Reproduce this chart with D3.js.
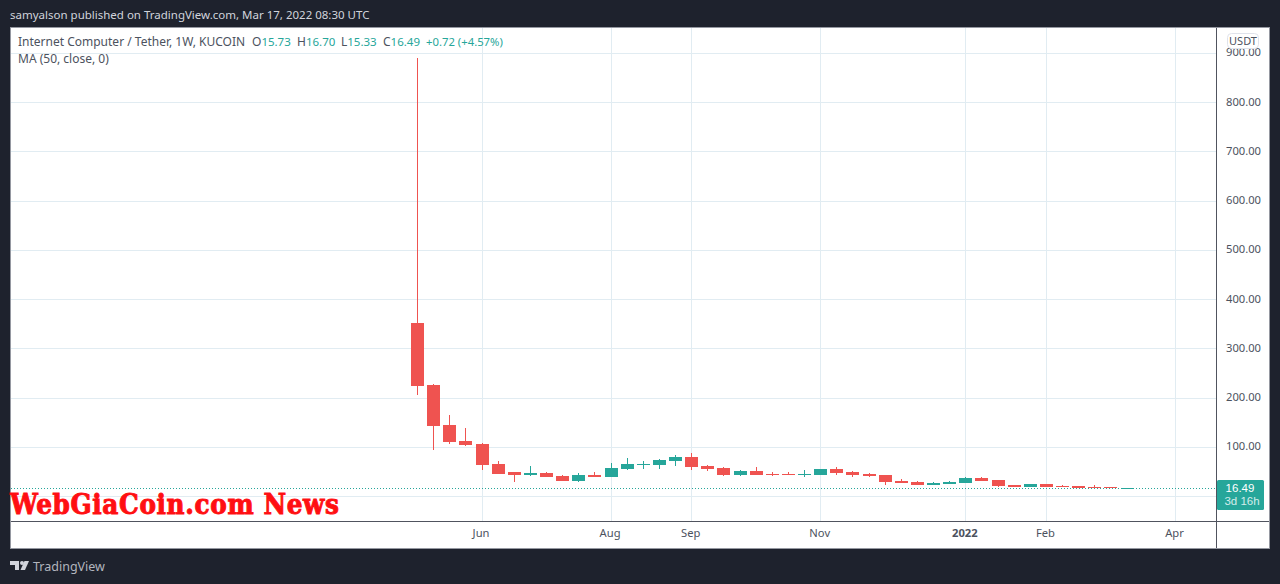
<!DOCTYPE html>
<html><head><meta charset="utf-8">
<script src="https://cdnjs.cloudflare.com/ajax/libs/d3/7.8.5/d3.min.js"></script>
<style>
html,body{margin:0;padding:0;background:#1e222d;overflow:hidden}
svg{display:block}
text{font-family:"Noto Sans",sans-serif}
.axis path,.axis line{display:none}
.axis text{font-family:"Noto Sans",sans-serif;font-size:11.2px;fill:#4c525e}
</style></head><body>
<svg id="c" width="1280" height="584"></svg>
<script>
const weekIndex=[...Array(45).keys()];
const opens =[351,226,144,112,106,65,49,43,47,41,31,43,39,55,63,63,71,79,61,57,43,51,45,45,43,43,55,49,45,43,31,29,23,25,27,37,33,23,19,25,20,20,19,19,15.73];
const closes=[224,142,110,104,63,45,43,47,39,31,43,39,57,65,65,73,79,59,55,43,51,43,43,43,45,55,47,43,41,29,27,23,27,29,37,31,21,19,25,19,19,17,17,16,16.49];
const highs =[889,228,165,138,108,71,49,61,49,43,47,49,67,77,71,75,83,87,63,59,53,59,49,49,53,55,59,51,47,43,35,31,29,31,39,39,33,23,25,25,22,21,23,19,16.70];
const lows  =[205,94,106,102,53,45,28,41,39,31,28,39,39,53,55,55,61,53,51,41,41,43,41,43,39,43,43,39,39,22,27,23,23,25,27,31,18,19,19,19,19,17,17,16,15.33];
const priceTicks=[100,200,300,400,500,600,700,800,900];
const zeroLine=0;
const monthTicks=[["2021-06-07","Jun"],["2021-08-02","Aug"],["2021-09-06","Sep"],["2021-11-01","Nov"],["2022-01-03","2022"],["2022-02-07","Feb"],["2022-04-04","Apr"]];
const firstWeek="2021-05-10";
const lastClose=16.49;
const legendTitle="Internet Computer / Tether, 1W, KUCOIN";
const legendOHLC=[["O","15.73"],["H","16.70"],["L","15.33"],["C","16.49"]];
const legendChange="+0.72 (+4.57%)";

const up="#26a69a",down="#ef5350",grid="#e1ecf2",txt="#4c525e";
const parse=d3.utcParse("%Y-%m-%d");
const t0=parse(firstWeek);
const dates=weekIndex.map(i=>d3.utcDay.offset(t0,i*7));
const x=d3.scaleUtc().domain([t0,parse("2022-04-04")]).range([417,1175]);
const y=d3.scaleLinear().domain([0,900]).range([496,53]);
const px=v=>Math.round(v);
const svg=d3.select("#c");

svg.append("rect").attr("x",10.5).attr("y",27.5).attr("width",1259).attr("height",521).attr("fill","#fff").attr("stroke","#9598a1");

const g=svg.append("g");
g.selectAll(".hg").data([zeroLine,...priceTicks]).join("line")
 .attr("x1",11).attr("x2",1216).attr("y1",d=>px(y(d))+.5).attr("y2",d=>px(y(d))+.5).attr("stroke",grid);
g.selectAll(".vg").data(monthTicks).join("line")
 .attr("y1",28).attr("y2",521).attr("x1",d=>px(x(parse(d[0])))+.5).attr("x2",d=>px(x(parse(d[0])))+.5).attr("stroke",grid);

g.append("line").attr("x1",11).attr("x2",1216).attr("y1",px(y(lastClose))+.5).attr("y2",px(y(lastClose))+.5)
 .attr("stroke",up).attr("stroke-dasharray","1 2");

const candles=g.selectAll(".k").data(weekIndex).join("g");
candles.append("line")
 .attr("x1",i=>px(x(dates[i]))+.5).attr("x2",i=>px(x(dates[i]))+.5)
 .attr("y1",i=>px(y(highs[i]))).attr("y2",i=>px(y(lows[i])))
 .attr("stroke",i=>closes[i]>=opens[i]?up:down);
candles.append("rect")
 .attr("x",i=>px(x(dates[i]))-6).attr("width",13)
 .attr("y",i=>px(y(Math.max(opens[i],closes[i]))))
 .attr("height",i=>Math.max(1,px(y(Math.min(opens[i],closes[i])))-px(y(Math.max(opens[i],closes[i])))))
 .attr("fill",i=>closes[i]>=opens[i]?up:down);

svg.append("line").attr("x1",11).attr("x2",1269).attr("y1",521.5).attr("y2",521.5).attr("stroke","#50535e");
svg.append("line").attr("x1",1216.5).attr("x2",1216.5).attr("y1",28).attr("y2",548).attr("stroke","#50535e");

svg.append("g").attr("class","axis").attr("transform","translate(1216,-1)")
 .call(d3.axisRight(y).tickValues(priceTicks).tickFormat(d3.format(".2f")).tickSize(0).tickPadding(10))
 .call(a=>a.selectAll("text").attr("dy","0.35em"));
svg.append("g").attr("class","axis").attr("transform","translate(-1,521)")
 .call(d3.axisBottom(x).tickValues(monthTicks.map(d=>parse(d[0]))).tickFormat((d,i)=>monthTicks[i][1]).tickSize(0).tickPadding(8))
 .call(a=>a.selectAll("text").filter((d,i)=>monthTicks[i][1]==="2022").attr("font-weight",700));

svg.append("rect").attr("x",1227.5).attr("y",33.5).attr("width",31).attr("height",15).attr("rx",4).attr("fill","#fff").attr("stroke","#e0e3eb");
svg.append("text").attr("x",1243).attr("y",45).attr("text-anchor","middle").attr("font-size",11).attr("fill",txt).text("USDT");

svg.append("rect").attr("x",1217).attr("y",480).attr("width",47).attr("height",30).attr("rx",1.5).attr("fill",up);
svg.append("text").attr("x",1240).attr("y",492).attr("text-anchor","middle").style("font-family","Liberation Sans").attr("font-size",11.5).attr("fill","#fff").text(d3.format(".2f")(lastClose));
svg.append("text").attr("x",1242).attr("y",505).attr("text-anchor","middle").style("font-family","Liberation Sans").attr("font-size",11.5).attr("fill","#d4edeb").text("3d 16h");

svg.append("text").attr("x",10).attr("y",19).attr("font-size",11.5).attr("fill","#d1d4dc").text("samyalson published on TradingView.com, Mar 17, 2022 08:30 UTC");

const leg=svg.append("text").attr("x",18).attr("y",46).attr("font-size",12).attr("fill",txt);
leg.append("tspan").text(legendTitle);
legendOHLC.forEach((d,i)=>{
  leg.append("tspan").attr("x",[252,297,341,383][i]).text(d[0]);
  leg.append("tspan").attr("fill",up).attr("font-size",11.5).text(d[1]);
});
leg.append("tspan").attr("x",426).attr("fill",up).attr("font-size",11.3).text(legendChange);
svg.append("text").attr("x",18).attr("y",63).attr("font-size",12).attr("fill",txt).text("MA (50, close, 0)");

svg.append("text").attr("x",10).attr("y",514).style("font-family","'DejaVu Serif Condensed','DejaVu Serif'").style("font-stretch","condensed").attr("font-weight",700).attr("font-size",27.5)
 .attr("fill","#ff0f12").attr("stroke","#ff0f12").attr("stroke-width",.9)
 .attr("textLength",329).attr("lengthAdjust","spacing").text("WebGiaCoin.com News");

const logo=svg.append("g").attr("transform","translate(10,561)").attr("fill","#d1d4dc");
logo.append("path").attr("d","M0 0H9V9H5V4H0Z");
logo.append("circle").attr("cx",12).attr("cy",2).attr("r",2);
logo.append("path").attr("d","M14.5 0H19L15 9H10.5Z");
svg.append("text").attr("x",33).attr("y",571).attr("font-size",12.5).attr("fill","#b2b5be").text("TradingView");
</script>
</body></html>
